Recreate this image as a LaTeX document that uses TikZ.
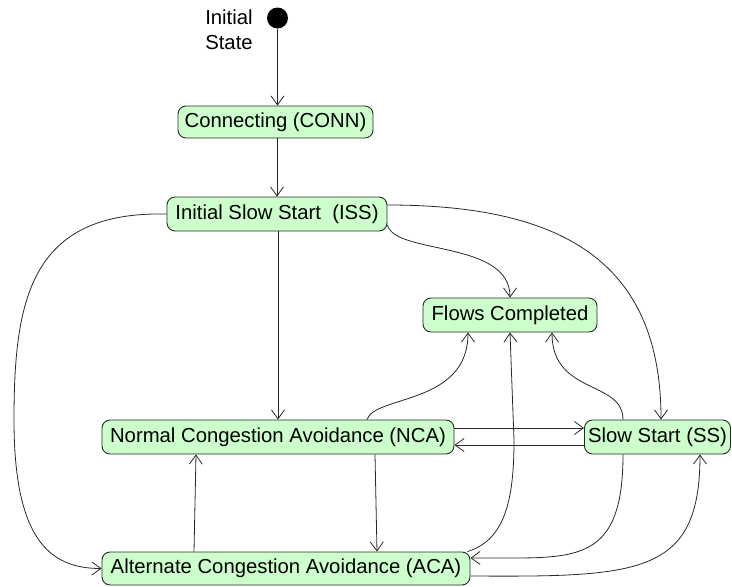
\documentclass[tikz,border=0pt]{standalone}
\usepackage{fontspec}
\setmainfont{Liberation Sans}
\usetikzlibrary{arrows.meta}
\definecolor{stfill}{RGB}{204,255,204}
\definecolor{stline}{RGB}{40,40,40}
\tikzset{
  state/.style={draw=stline, fill=stfill, rounded corners=8pt, line width=0.9pt,
    inner sep=0pt, minimum height=34pt, font=\fontsize{20.3}{24}\selectfont},
  conn/.style={draw=stline, line width=0.8pt, -{Straight Barb[length=9pt,width=13pt]}},
}
\begin{document}
\begin{tikzpicture}[x=1pt,y=-1pt]
\useasboundingbox (0,0) rectangle (732,587);
\node[circle, fill=black, minimum size=21pt, inner sep=0pt] (init) at (277.5,18) {};
\node[align=center, font=\fontsize{20.3}{25}\selectfont, inner sep=0pt] (initlbl) at (229,29.5) {Initial\\State};
\node[state, minimum width=195pt, minimum height=32pt] (conn) at (275.5,122) {Connecting (CONN)};
\node[state, minimum width=220pt] (iss) at (277,214) {Initial Slow Start\ \ (ISS)};
\node[state, minimum width=174pt] (fc) at (510,315) {Flows Completed};
\node[state, minimum width=352pt] (nca) at (278,437) {Normal Congestion Avoidance (NCA)};
\node[state, minimum width=146pt] (ss) at (657.5,437) {Slow Start (SS)};
\node[state, minimum width=368pt, minimum height=33pt] (aca) at (286,568.5) {Alternate Congestion Avoidance (ACA)};

\draw[conn] (init.south) -- (init.south |- conn.north);
\draw[conn] (iss.north |- conn.south) -- (iss.north);
\draw[conn] ([xshift=1pt]iss.south) -- ([xshift=1pt]iss.south |- nca.north);
\draw[conn] (iss.west) .. controls (30,211) and (14,300) .. (14,420)
  .. controls (14,540) and (50,568.5) .. (aca.west);
\draw[conn] ([yshift=-11pt]iss.east) .. controls (395,255) and (510,240) .. (fc.north);
\draw[conn] ([yshift=9pt]iss.east) .. controls (560,205) and (661,260) .. ([xshift=3.5pt]ss.north);
\draw[conn] ([xshift=89pt]nca.north) .. controls (375,395) and (468,405) .. ([xshift=-42pt]fc.south);
\draw[conn] ([xshift=-3pt]aca.north east) .. controls (505,540) and (514,500) .. (514,440) -- (fc.south);
\draw[conn] ([xshift=-34.5pt]ss.north) .. controls (623,380) and (552,395) .. ([xshift=42pt]fc.south);
\draw[conn] ([yshift=9pt]nca.east) -- ([yshift=9pt]ss.west);
\draw[conn] ([yshift=-8pt]ss.west) -- ([yshift=-8pt]nca.east);
\draw[conn] ([xshift=97pt]nca.south) -- ([xshift=91pt]aca.north);
\draw[conn] ([xshift=-92pt]aca.north) -- ([xshift=-82pt]nca.south);
\draw[conn] ([xshift=-34.5pt]ss.south) .. controls (623,570) and (570,557) .. ([yshift=10.5pt]aca.east);
\draw[conn] ([yshift=-7.5pt]aca.east) .. controls (640,577) and (700,575) .. ([xshift=42.5pt]ss.south);
\end{tikzpicture}
\end{document}
